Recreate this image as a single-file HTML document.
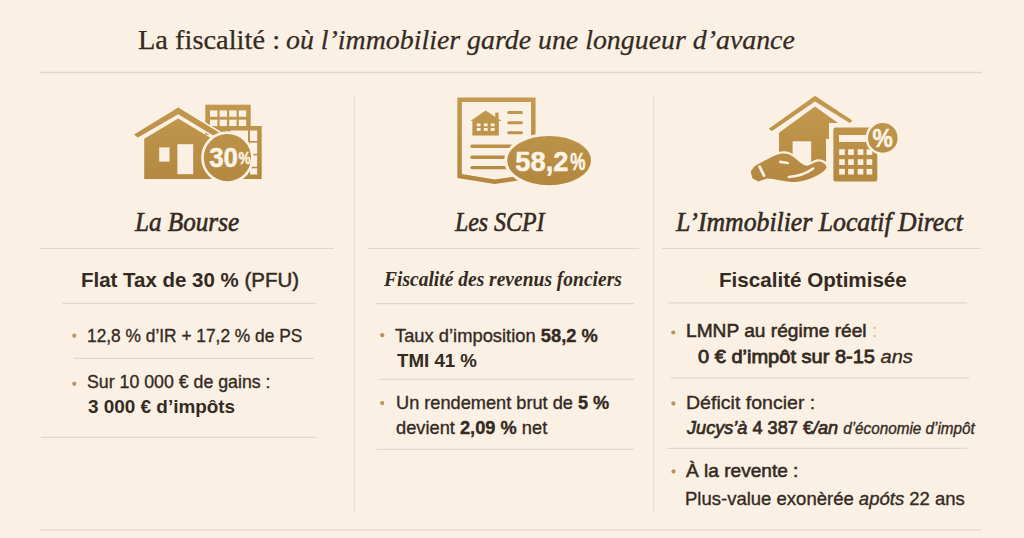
<!DOCTYPE html>
<html><head><meta charset="utf-8"><style>
html,body{margin:0;padding:0}
body{width:1024px;height:538px;overflow:hidden;background:#faf0e4;position:relative}
.t{position:absolute;transform-origin:0 0;margin:0}
b{font-weight:700}
</style></head><body>
<svg width="1024" height="538" viewBox="0 0 1024 538" style="position:absolute;left:0;top:0"><defs><linearGradient id="gg" gradientUnits="userSpaceOnUse" x1="0" y1="95" x2="0" y2="185"><stop offset="0" stop-color="#c49a50"/><stop offset="1" stop-color="#b3873f"/></linearGradient></defs><line x1="40" y1="72.5" x2="982" y2="72.5" stroke="#e3d8c7" stroke-width="1.3"/><line x1="40" y1="248.5" x2="334" y2="248.5" stroke="#e3d8c7" stroke-width="1.2"/><line x1="368" y1="248.5" x2="639" y2="248.5" stroke="#e3d8c7" stroke-width="1.2"/><line x1="662" y1="248.5" x2="981" y2="248.5" stroke="#e3d8c7" stroke-width="1.2"/><line x1="62.5" y1="303.3" x2="315.7" y2="303.3" stroke="#e3d8c7" stroke-width="1.2"/><line x1="376" y1="303.7" x2="634" y2="303.7" stroke="#e3d8c7" stroke-width="1.2"/><line x1="668.3" y1="302.8" x2="967" y2="302.8" stroke="#e3d8c7" stroke-width="1.2"/><line x1="73.7" y1="358.4" x2="314" y2="358.4" stroke="#e3d8c7" stroke-width="1.2"/><line x1="41" y1="437.4" x2="316.3" y2="437.4" stroke="#e3d8c7" stroke-width="1.2"/><line x1="379.3" y1="379.3" x2="634.3" y2="379.3" stroke="#e3d8c7" stroke-width="1.2"/><line x1="376.8" y1="449.4" x2="634.3" y2="449.4" stroke="#e3d8c7" stroke-width="1.2"/><line x1="670.5" y1="378.1" x2="969.3" y2="378.1" stroke="#e3d8c7" stroke-width="1.2"/><line x1="667" y1="448.3" x2="967.4" y2="448.3" stroke="#e3d8c7" stroke-width="1.2"/><line x1="40" y1="529.8" x2="981" y2="529.8" stroke="#e3d8c7" stroke-width="1.3"/><line x1="354.3" y1="96.7" x2="354.3" y2="511" stroke="#e7dccb" stroke-width="1.1"/><line x1="653.6" y1="96.7" x2="653.6" y2="512.5" stroke="#e7dccb" stroke-width="1.1"/><circle cx="74.3" cy="335.7" r="2.1" fill="#b89558"/><circle cx="74.3" cy="383.8" r="2.1" fill="#b89558"/><circle cx="382.2" cy="335.2" r="2.1" fill="#b89558"/><circle cx="382.2" cy="403.1" r="2.1" fill="#b89558"/><circle cx="673.3" cy="332.5" r="2.1" fill="#b89558"/><circle cx="673.4" cy="403.4" r="2.1" fill="#b89558"/><circle cx="673.5" cy="471.4" r="2.1" fill="#b89558"/>
<g>
 <rect x="205.3" y="104.7" width="45.4" height="30" fill="url(#gg)"/>
 <rect x="210" y="110.4" width="7.4" height="6.4" fill="#faf0e4"/><rect x="219.6" y="110.4" width="7.4" height="6.4" fill="#faf0e4"/><rect x="229.2" y="110.4" width="7.4" height="6.4" fill="#faf0e4"/><rect x="238.8" y="110.4" width="7.4" height="6.4" fill="#faf0e4"/><rect x="210" y="119.7" width="7.4" height="6.4" fill="#faf0e4"/><rect x="219.6" y="119.7" width="7.4" height="6.4" fill="#faf0e4"/><rect x="229.2" y="119.7" width="7.4" height="6.4" fill="#faf0e4"/><rect x="238.8" y="119.7" width="7.4" height="6.4" fill="#faf0e4"/>
 <rect x="228.25" y="128.25" width="31.2" height="48.5" fill="#faf0e4" stroke="url(#gg)" stroke-width="4.5"/>
 <line x1="249" y1="128" x2="249" y2="177" stroke="url(#gg)" stroke-width="2"/>
 <line x1="228" y1="141.8" x2="260" y2="141.8" stroke="url(#gg)" stroke-width="1.6"/>
 <line x1="228" y1="154.6" x2="260" y2="154.6" stroke="url(#gg)" stroke-width="1.6"/>
 <line x1="228" y1="167.5" x2="260" y2="167.5" stroke="url(#gg)" stroke-width="1.6"/>
 <polygon points="134,134.4 178.2,107.6 224,135.4 224,142 178.2,114.2 137.9,137.6" fill="url(#gg)" stroke="#faf0e4" stroke-width="3" paint-order="stroke" stroke-linejoin="round"/>
 <polygon points="144.2,138.8 178.2,118.6 214,140 214,179 144.2,179" fill="url(#gg)"/>
 <rect x="159.2" y="147.4" width="10.3" height="14.2" fill="#faf0e4"/>
 <rect x="177.4" y="144.2" width="15.8" height="30" fill="#faf0e4"/>
 <circle cx="227.4" cy="157.6" r="24.95" fill="url(#gg)" stroke="#faf0e4" stroke-width="2.7"/>
 <text x="209.2" y="167.2" font-family="Liberation Sans" font-weight="700" font-size="27" textLength="28.8" lengthAdjust="spacingAndGlyphs" fill="#fbf4e6" stroke="#fbf4e6" stroke-width="0.5">30</text>
 <text x="238.4" y="163.8" font-family="Liberation Sans" font-weight="700" font-size="16.5" textLength="12.2" lengthAdjust="spacingAndGlyphs" fill="#fbf4e6" stroke="#fbf4e6" stroke-width="0.5">%</text>
</g>
<g>
 <path d="M459.6,176 L459.6,99.8 L533.3,99.8 L533.3,176 L494.6,181.8 Z" fill="none" stroke="url(#gg)" stroke-width="4.5" stroke-linejoin="miter"/>
 <polygon points="470.5,121 485.6,110.5 501.5,121" fill="url(#gg)"/>
 <rect x="495.3" y="112.6" width="3.2" height="7" fill="url(#gg)"/>
 <rect x="472.4" y="119.5" width="26.4" height="16" fill="url(#gg)"/>
 <rect x="476.7" y="123.4" width="3.9" height="2.9" fill="#faf0e4"/><rect x="483.8" y="123.4" width="3.9" height="2.9" fill="#faf0e4"/><rect x="490.7" y="123.4" width="3.9" height="2.9" fill="#faf0e4"/><rect x="476.7" y="128.0" width="3.9" height="2.9" fill="#faf0e4"/><rect x="483.8" y="128.0" width="3.9" height="2.9" fill="#faf0e4"/><rect x="490.7" y="128.0" width="3.9" height="2.9" fill="#faf0e4"/>
 <line x1="508.7" y1="112.4" x2="521.4" y2="112.4" stroke="url(#gg)" stroke-width="3" stroke-linecap="round"/><line x1="508.7" y1="122.8" x2="521.4" y2="122.8" stroke="url(#gg)" stroke-width="3" stroke-linecap="round"/><line x1="508.7" y1="132.8" x2="521.4" y2="132.8" stroke="url(#gg)" stroke-width="3" stroke-linecap="round"/>
 <line x1="472" y1="146.3" x2="516" y2="146.3" stroke="url(#gg)" stroke-width="3.4" stroke-linecap="round"/><line x1="472" y1="157.2" x2="516" y2="157.2" stroke="url(#gg)" stroke-width="3.4" stroke-linecap="round"/><line x1="472" y1="167.6" x2="516" y2="167.6" stroke="url(#gg)" stroke-width="3.4" stroke-linecap="round"/>
 <ellipse cx="549.1" cy="160.6" rx="43.4" ry="26.2" fill="url(#gg)" stroke="#faf0e4" stroke-width="3"/>
 <text x="515.3" y="170.8" font-family="Liberation Sans" font-weight="700" font-size="28" textLength="53.3" lengthAdjust="spacingAndGlyphs" fill="#fbf4e6" stroke="#fbf4e6" stroke-width="0.5">58,2</text>
 <text x="570.3" y="169.9" font-family="Liberation Sans" font-weight="700" font-size="23" textLength="15.2" lengthAdjust="spacingAndGlyphs" fill="#fbf4e6" stroke="#fbf4e6" stroke-width="0.5">%</text>
</g>
<g>
 <polygon points="779,132.8 815,106.5 838,123 829,123 829,139 826,139 826,168 779,168" fill="url(#gg)"/>
 <rect x="792.6" y="141.3" width="18.6" height="25" fill="#faf0e4"/>
 <polygon points="768.8,128.7 815,95.8 852.3,120.4 849.8,123 815,101.5 772,131" fill="url(#gg)" stroke-linejoin="round"/>
 <path d="M750.6,171.6 L754.8,166 L761.5,162.3 C767.5,159.5 774,155 781.5,153.6 C787.5,152.9 791.5,155 795.5,158.5 C799.5,162 803,165.5 807.5,165.8 C811,165 814,162 818,161.5 C822,161.2 826,163.8 826.6,167 C826.4,170 821,173.5 815.5,176.3 C808.5,180 800,182.4 792,181.9 C784,181.4 775,178.6 767,178.4 L758.2,181.6 L752.4,178.2 Z" fill="url(#gg)" stroke="#faf0e4" stroke-width="4.4" stroke-linejoin="round" paint-order="stroke"/>
 <line x1="759.6" y1="166.6" x2="764" y2="175.6" stroke="#faf0e4" stroke-width="2.8" stroke-linecap="round"/>
 <line x1="780.3" y1="161.9" x2="787.8" y2="163" stroke="#faf0e4" stroke-width="2.6" stroke-linecap="round"/>
 <path d="M788.8,177 Q803,176 813.2,168.5" fill="none" stroke="#faf0e4" stroke-width="2.6" stroke-linecap="round"/>
 <rect x="832.4" y="126.4" width="45.9" height="56" rx="3" fill="url(#gg)" stroke="#faf0e4" stroke-width="2"/>
 <rect x="839" y="135" width="27" height="7" fill="#faf0e4"/>
 <rect x="839.15" y="149.25" width="5.7" height="5.7" fill="#faf0e4"/><rect x="848.15" y="149.25" width="5.7" height="5.7" fill="#faf0e4"/><rect x="857.65" y="149.25" width="5.7" height="5.7" fill="#faf0e4"/><rect x="866.55" y="149.25" width="5.7" height="5.7" fill="#faf0e4"/><rect x="839.15" y="159.25" width="5.7" height="5.7" fill="#faf0e4"/><rect x="848.15" y="159.25" width="5.7" height="5.7" fill="#faf0e4"/><rect x="857.65" y="159.25" width="5.7" height="5.7" fill="#faf0e4"/><rect x="866.55" y="159.25" width="5.7" height="5.7" fill="#faf0e4"/><rect x="839.15" y="168.85" width="5.7" height="5.7" fill="#faf0e4"/><rect x="848.15" y="168.85" width="5.7" height="5.7" fill="#faf0e4"/><rect x="857.65" y="168.85" width="5.7" height="5.7" fill="#faf0e4"/><rect x="866.55" y="168.85" width="5.7" height="5.7" fill="#faf0e4"/>
 <circle cx="882.8" cy="137.9" r="16" fill="url(#gg)" stroke="#faf0e4" stroke-width="2.4"/>
 <text x="872.6" y="146.8" font-family="Liberation Sans" font-weight="700" font-size="25" textLength="20.3" lengthAdjust="spacingAndGlyphs" fill="#fbf4e6" stroke="#fbf4e6" stroke-width="0.5">%</text>
</g></svg>
<div class='t' style='left:137.5px;top:25.6px;font-family:"Liberation Serif", serif;font-size:28px;font-weight:400;font-style:normal;line-height:28px;white-space:nowrap;-webkit-text-stroke:0.25px currentColor;color:#342a22;transform:scaleX(1.015)'>La fiscalité :</div><div class='t' style='left:285.5px;top:25.6px;font-family:"Liberation Serif", serif;font-size:28px;font-weight:400;font-style:normal;line-height:28px;white-space:nowrap;-webkit-text-stroke:0.25px currentColor;color:#342a22;transform:scaleX(0.995)'><i>où l’immobilier garde une longueur d’avance</i></div><div class='t' style='left:134.7px;top:208.0px;font-family:"Liberation Serif", serif;font-size:28px;font-weight:400;font-style:italic;line-height:28px;white-space:nowrap;-webkit-text-stroke:0.6px currentColor;color:#342a22;transform:scaleX(0.898)'>La Bourse</div><div class='t' style='left:454.8px;top:208.0px;font-family:"Liberation Serif", serif;font-size:28px;font-weight:400;font-style:italic;line-height:28px;white-space:nowrap;-webkit-text-stroke:0.6px currentColor;color:#342a22;transform:scaleX(0.852)'>Les SCPI</div><div class='t' style='left:675.6px;top:207.8px;font-family:"Liberation Serif", serif;font-size:28px;font-weight:400;font-style:italic;line-height:28px;white-space:nowrap;-webkit-text-stroke:0.6px currentColor;color:#342a22;transform:scaleX(0.919)'>L’Immobilier Locatif Direct</div><div class='t' style='left:81.4px;top:269.3px;font-family:"Liberation Sans", sans-serif;font-size:21px;font-weight:400;font-style:normal;line-height:21px;white-space:nowrap;;color:#342a22;transform:scaleX(0.975)'><b>Flat Tax de 30 %</b> <span style="-webkit-text-stroke:0.5px currentColor">(PFU)</span></div><div class='t' style='left:383.8px;top:269.1px;font-family:"Liberation Serif", serif;font-size:21px;font-weight:700;font-style:italic;line-height:21px;white-space:nowrap;;color:#342a22;transform:scaleX(0.929)'>Fiscalité des revenus fonciers</div><div class='t' style='left:719.2px;top:268.6px;font-family:"Liberation Sans", sans-serif;font-size:21px;font-weight:700;font-style:normal;line-height:21px;white-space:nowrap;;color:#342a22;transform:scaleX(0.981)'>Fiscalité Optimisée</div><div class='t' style='left:87.0px;top:325.7px;font-family:"Liberation Sans", sans-serif;font-size:19px;font-weight:400;font-style:normal;line-height:19px;white-space:nowrap;-webkit-text-stroke:0.35px currentColor;color:#342a22;transform:scaleX(0.912)'>12,8 % d’IR + 17,2 % de PS</div><div class='t' style='left:87.0px;top:372.0px;font-family:"Liberation Sans", sans-serif;font-size:19px;font-weight:400;font-style:normal;line-height:19px;white-space:nowrap;-webkit-text-stroke:0.35px currentColor;color:#342a22;transform:scaleX(0.934)'>Sur 10 000 € de gains :</div><div class='t' style='left:87.8px;top:397.3px;font-family:"Liberation Sans", sans-serif;font-size:19px;font-weight:700;font-style:normal;line-height:19px;white-space:nowrap;;color:#342a22;transform:scaleX(0.995)'>3 000 € d’impôts</div><div class='t' style='left:395.2px;top:325.9px;font-family:"Liberation Sans", sans-serif;font-size:19px;font-weight:400;font-style:normal;line-height:19px;white-space:nowrap;-webkit-text-stroke:0.35px currentColor;color:#342a22;transform:scaleX(0.965)'>Taux d’imposition <b>58,2 %</b></div><div class='t' style='left:397.0px;top:351.0px;font-family:"Liberation Sans", sans-serif;font-size:19px;font-weight:400;font-style:normal;line-height:19px;white-space:nowrap;;color:#342a22;transform:scaleX(0.984)'><b>TMI 41 %</b></div><div class='t' style='left:395.8px;top:393.0px;font-family:"Liberation Sans", sans-serif;font-size:19px;font-weight:400;font-style:normal;line-height:19px;white-space:nowrap;-webkit-text-stroke:0.35px currentColor;color:#342a22;transform:scaleX(0.957)'>Un rendement brut de <b>5 %</b></div><div class='t' style='left:395.8px;top:417.5px;font-family:"Liberation Sans", sans-serif;font-size:19px;font-weight:400;font-style:normal;line-height:19px;white-space:nowrap;-webkit-text-stroke:0.35px currentColor;color:#342a22;transform:scaleX(0.961)'>devient <b>2,09 %</b> net</div><div class='t' style='left:685.9px;top:321.4px;font-family:"Liberation Sans", sans-serif;font-size:19px;font-weight:400;font-style:normal;line-height:19px;white-space:nowrap;-webkit-text-stroke:0.55px currentColor;color:#342a22;transform:scaleX(1.008)'>LMNP au régime réel <span style="color:#d9b880;-webkit-text-stroke:0">:</span></div><div class='t' style='left:698.0px;top:347.3px;font-family:"Liberation Sans", sans-serif;font-size:19px;font-weight:400;font-style:normal;line-height:19px;white-space:nowrap;-webkit-text-stroke:0.35px currentColor;color:#342a22;transform:scaleX(1.054)'><span style="-webkit-text-stroke:0.8px currentColor">0 € d’impôt sur 8-15</span> <i>ans</i></div><div class='t' style='left:685.8px;top:393.0px;font-family:"Liberation Sans", sans-serif;font-size:19px;font-weight:400;font-style:normal;line-height:19px;white-space:nowrap;-webkit-text-stroke:0.35px currentColor;color:#342a22;transform:scaleX(1.029)'>Déficit foncier :</div><div class='t' style='left:686.8px;top:418.0px;font-family:"Liberation Sans", sans-serif;font-size:19px;font-weight:400;font-style:normal;line-height:19px;white-space:nowrap;-webkit-text-stroke:0.35px currentColor;color:#342a22;transform:scaleX(0.954)'><span style="-webkit-text-stroke:0.7px currentColor"><i>Jucys’à</i> 4 387 €<i>/an</i></span> <i style="font-size:16px">d’économie d’impôt</i></div><div class='t' style='left:685.6px;top:461.2px;font-family:"Liberation Sans", sans-serif;font-size:19px;font-weight:400;font-style:normal;line-height:19px;white-space:nowrap;-webkit-text-stroke:0.55px currentColor;color:#342a22;transform:scaleX(1.004)'>À la revente :</div><div class='t' style='left:684.6px;top:488.6px;font-family:"Liberation Sans", sans-serif;font-size:19px;font-weight:400;font-style:normal;line-height:19px;white-space:nowrap;-webkit-text-stroke:0.35px currentColor;color:#342a22;transform:scaleX(0.974)'>Plus-value exonèrée <i>apóts</i> 22 ans</div>

</body></html>
